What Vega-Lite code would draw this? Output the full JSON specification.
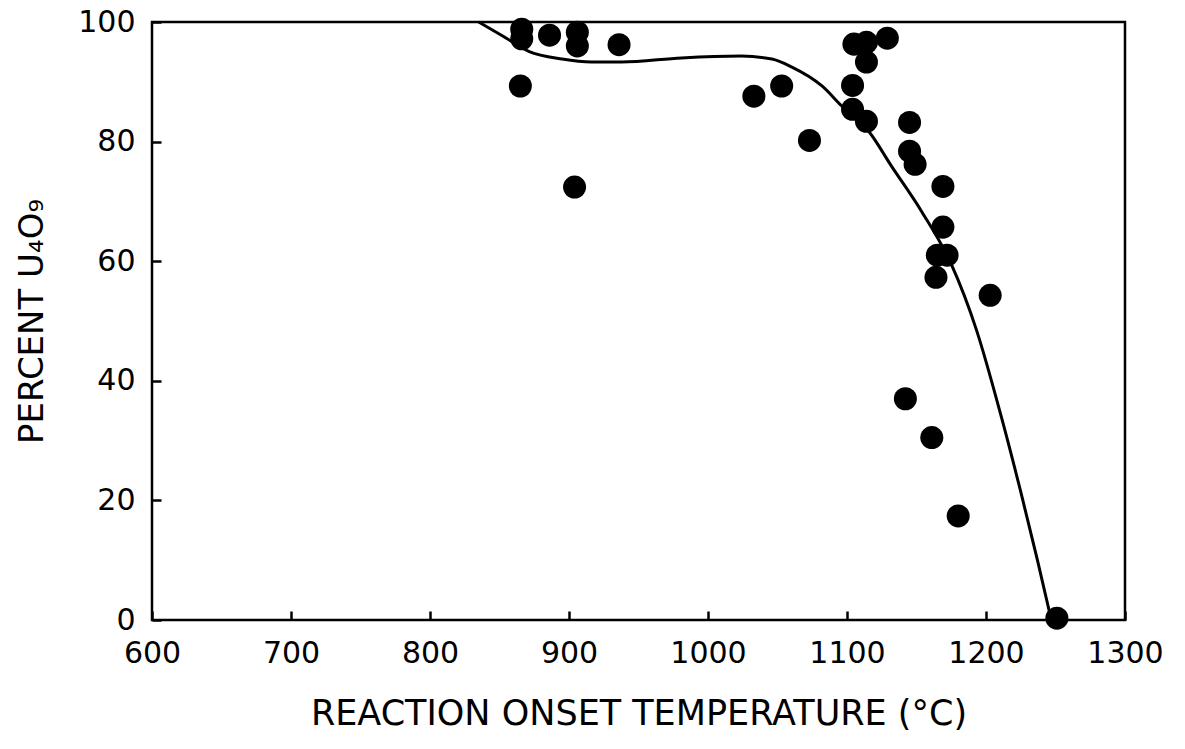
{
  "$schema": "https://vega.github.io/schema/vega-lite/v6.json",
  "width": 973,
  "height": 598,
  "autosize": "none",
  "padding": {"left": 152, "top": 22, "right": 60, "bottom": 129},
  "background": "white",
  "config": {
    "view": {"stroke": "black", "strokeWidth": 2.5},
    "axis": {
      "grid": false,
      "domain": false,
      "labelFlush": false,
      "labelOverlap": false,
      "labelFont": "DejaVu Sans",
      "labelFontSize": 30,
      "labelColor": "black",
      "titleFont": "DejaVu Sans",
      "titleFontSize": 29,
      "titleFontWeight": "normal",
      "titleColor": "black"
    }
  },
  "datasets": {
    "pts": [
      {"temp": 866, "pct": 98.8},
      {"temp": 866, "pct": 97.2},
      {"temp": 865, "pct": 89.3},
      {"temp": 886, "pct": 97.8},
      {"temp": 906, "pct": 98.3},
      {"temp": 906, "pct": 96.0},
      {"temp": 904, "pct": 72.4},
      {"temp": 936, "pct": 96.2},
      {"temp": 1033, "pct": 87.6},
      {"temp": 1053, "pct": 89.3},
      {"temp": 1073, "pct": 80.2},
      {"temp": 1105, "pct": 96.3},
      {"temp": 1114, "pct": 96.6},
      {"temp": 1129, "pct": 97.3},
      {"temp": 1114, "pct": 93.3},
      {"temp": 1104, "pct": 89.4},
      {"temp": 1104, "pct": 85.4},
      {"temp": 1114, "pct": 83.4},
      {"temp": 1145, "pct": 83.2},
      {"temp": 1145, "pct": 78.4},
      {"temp": 1149, "pct": 76.2},
      {"temp": 1169, "pct": 72.5},
      {"temp": 1169, "pct": 65.7},
      {"temp": 1165, "pct": 61.0},
      {"temp": 1172, "pct": 61.0},
      {"temp": 1164, "pct": 57.3},
      {"temp": 1203, "pct": 54.3},
      {"temp": 1142, "pct": 37.0},
      {"temp": 1161, "pct": 30.5},
      {"temp": 1180, "pct": 17.4},
      {"temp": 1251, "pct": 0.3}
    ],
    "fit": [
      {"temp": 835, "pct": 100},
      {"temp": 852, "pct": 97.7},
      {"temp": 871, "pct": 95.1},
      {"temp": 895, "pct": 93.8},
      {"temp": 916, "pct": 93.3},
      {"temp": 938, "pct": 93.3},
      {"temp": 981, "pct": 94.0},
      {"temp": 1024, "pct": 94.3},
      {"temp": 1046, "pct": 93.8},
      {"temp": 1060, "pct": 92.5},
      {"temp": 1082, "pct": 89.3},
      {"temp": 1096, "pct": 86.0},
      {"temp": 1116, "pct": 81.6},
      {"temp": 1132, "pct": 75.9},
      {"temp": 1154, "pct": 68.2},
      {"temp": 1175, "pct": 59.5},
      {"temp": 1193, "pct": 48.6},
      {"temp": 1211, "pct": 34.0},
      {"temp": 1226, "pct": 20.5},
      {"temp": 1237, "pct": 10.0},
      {"temp": 1247, "pct": 0}
    ]
  },
  "encoding": {
    "x": {"field": "temp", "type": "quantitative",
          "scale": {"domain": [600, 1300], "nice": false},
          "axis": {"orient": "bottom", "ticks": true, "tickSize": -9, "tickWidth": 2.5, "tickColor": "black",
                   "values": [600, 700, 800, 900, 1000, 1100, 1200, 1300], "format": "d",
                   "labelPadding": 27, "title": "REACTION ONSET TEMPERATURE (°C)", "titlePadding": 28, "titleFontSize": 35}},
    "y": {"field": "pct", "type": "quantitative",
          "scale": {"domain": [0, 100], "nice": false},
          "axis": {"orient": "left", "ticks": true, "tickSize": -9, "tickWidth": 2.5, "tickColor": "black",
                   "values": [0, 20, 40, 60, 80, 100],
                   "labelPadding": 26, "title": "PERCENT U₄O₉", "titlePadding": 28, "titleFontSize": 34}}
  },
  "layer": [
    {
      "data": {"name": "fit"},
      "mark": {"type": "line", "color": "black", "strokeWidth": 3, "interpolate": "monotone"}
    },
    {
      "data": {"name": "pts"},
      "mark": {"type": "circle", "color": "black", "opacity": 1, "size": 530}
    }
  ]
}
